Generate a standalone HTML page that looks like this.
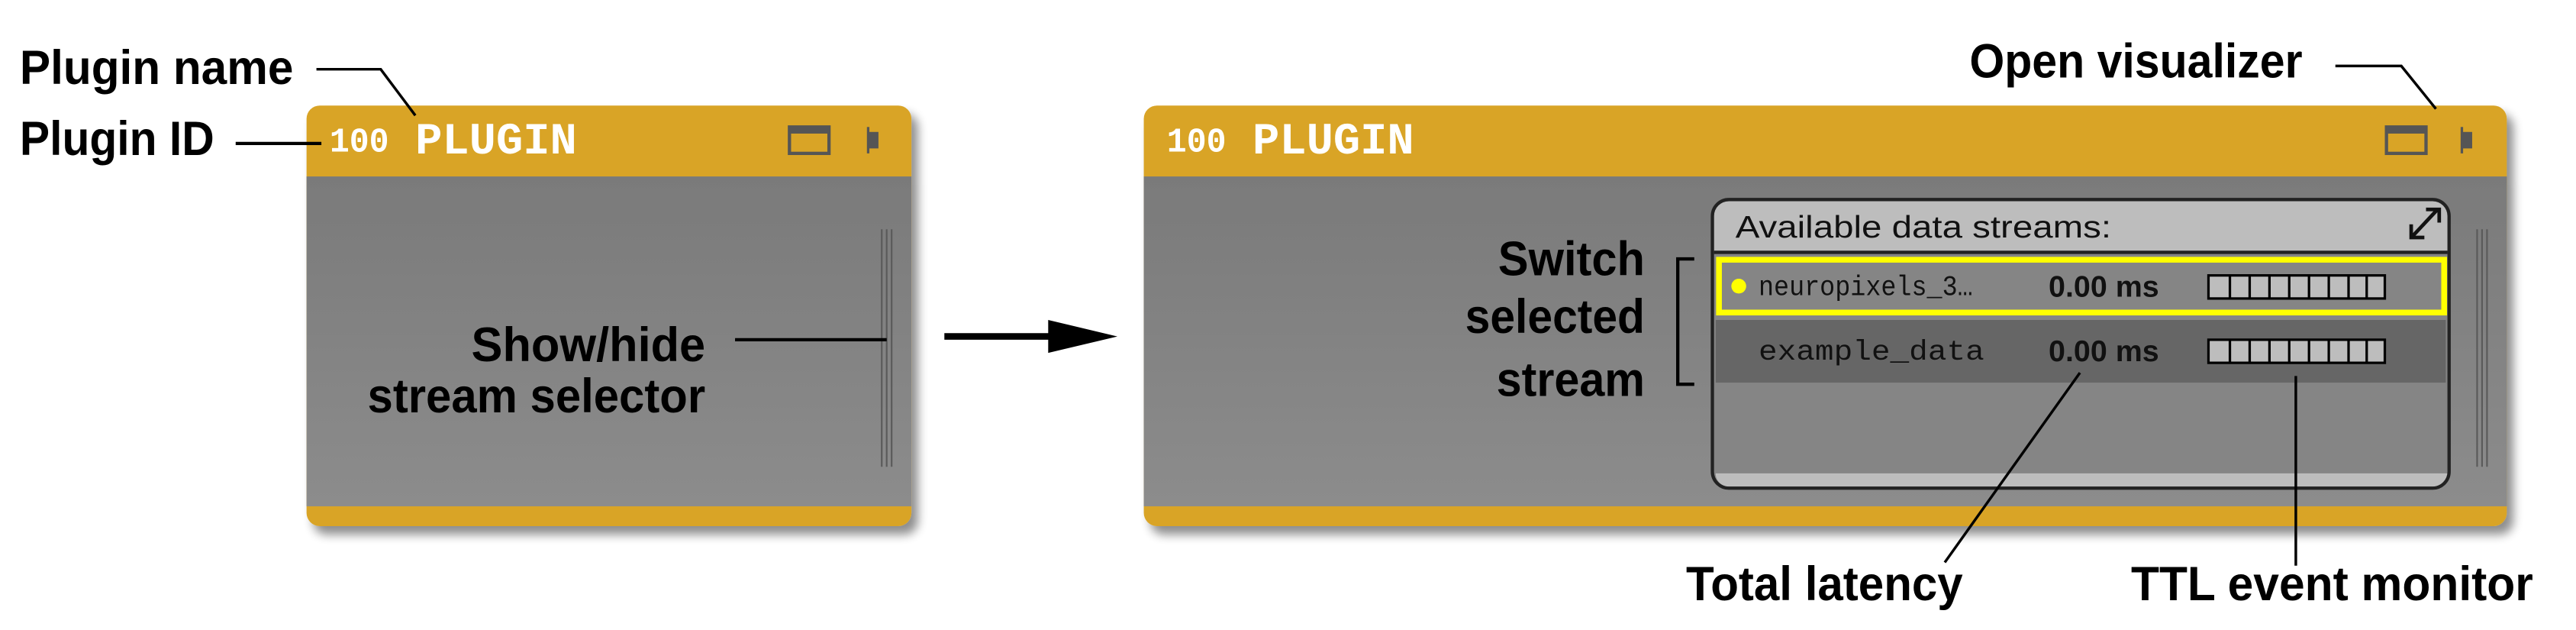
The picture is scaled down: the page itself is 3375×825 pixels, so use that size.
<!DOCTYPE html>
<html><head><meta charset="utf-8"><style>
html,body{margin:0;padding:0;background:#fff;}
svg{display:block;}
.lbl{font-family:"Liberation Sans",sans-serif;font-weight:bold;font-size:29px;fill:#000;}
.mono{font-family:"Liberation Mono","DejaVu Sans Mono",monospace;}
</style></head><body>
<svg width="3375" height="825" viewBox="0 0 1563 382" preserveAspectRatio="none" xmlns="http://www.w3.org/2000/svg">
<defs>
<linearGradient id="body" x1="0" y1="0" x2="0" y2="1"><stop offset="0" stop-color="#7a7a7a"/><stop offset="1" stop-color="#8c8c8c"/></linearGradient>
<filter id="sh" x="-5%" y="-10%" width="115%" height="130%"><feGaussianBlur in="SourceAlpha" stdDeviation="3"/><feOffset dx="4" dy="5"/><feComponentTransfer><feFuncA type="linear" slope="0.45"/></feComponentTransfer><feMerge><feMergeNode/><feMergeNode in="SourceGraphic"/></feMerge></filter>
</defs>

<g filter="url(#sh)">
<rect x="186" y="64" width="367" height="255" rx="8" fill="#d9a428"/>
<rect x="186" y="107" width="367" height="200" fill="url(#body)"/>
</g>
<text x="200" y="92" class="mono" font-size="21" font-weight="bold" fill="#fff" textLength="36" lengthAdjust="spacingAndGlyphs">100</text>
<text x="252" y="93" class="mono" font-size="27" font-weight="bold" fill="#fff" textLength="98" lengthAdjust="spacingAndGlyphs">PLUGIN</text>
<rect x="479" y="77" width="24" height="16" fill="none" stroke="#555" stroke-width="2"/>
<rect x="479" y="77" width="24" height="4" fill="#555"/>
<rect x="526" y="77" width="1.5" height="16" fill="#555"/><rect x="527" y="80" width="6" height="10" fill="#555"/>
<g stroke="#5a5a5a" stroke-width="1"><line x1="535" y1="139" x2="535" y2="283"/><line x1="538" y1="139" x2="538" y2="283"/><line x1="541" y1="139" x2="541" y2="283"/></g>
<text x="428" y="219" class="lbl" text-anchor="end" textLength="142" lengthAdjust="spacingAndGlyphs">Show/hide</text>
<text x="428" y="250" class="lbl" text-anchor="end" textLength="205" lengthAdjust="spacingAndGlyphs">stream selector</text>
<line x1="446" y1="206" x2="538" y2="206" stroke="#000" stroke-width="2"/>

<text x="12" y="51" class="lbl" textLength="166" lengthAdjust="spacingAndGlyphs">Plugin name</text>
<text x="12" y="94" class="lbl" textLength="118" lengthAdjust="spacingAndGlyphs">Plugin ID</text>
<polyline points="192,42 231,42 252,70" fill="none" stroke="#000" stroke-width="1.6"/>
<line x1="143" y1="87" x2="195" y2="87" stroke="#000" stroke-width="2"/>

<line x1="573" y1="204" x2="642" y2="204" stroke="#000" stroke-width="4"/>
<polygon points="636,194 678,204 636,214" fill="#000"/>

<g filter="url(#sh)">
<rect x="694" y="64" width="827" height="255" rx="8" fill="#d9a428"/>
<rect x="694" y="107" width="827" height="200" fill="url(#body)"/>
</g>
<text x="708" y="92" class="mono" font-size="21" font-weight="bold" fill="#fff" textLength="36" lengthAdjust="spacingAndGlyphs">100</text>
<text x="760" y="93" class="mono" font-size="27" font-weight="bold" fill="#fff" textLength="98" lengthAdjust="spacingAndGlyphs">PLUGIN</text>
<rect x="1448" y="77" width="24" height="16" fill="none" stroke="#555" stroke-width="2"/>
<rect x="1448" y="77" width="24" height="4" fill="#555"/>
<rect x="1493" y="77" width="1.5" height="16" fill="#555"/><rect x="1494" y="80" width="6" height="10" fill="#555"/>
<g stroke="#5a5a5a" stroke-width="1"><line x1="1503" y1="139" x2="1503" y2="283"/><line x1="1506" y1="139" x2="1506" y2="283"/><line x1="1509" y1="139" x2="1509" y2="283"/></g>

<rect x="1039" y="121" width="447" height="175" rx="10" fill="#858585"/>
<path d="M1040,153 V131 a9,9 0 0 1 9,-9 H1476 a9,9 0 0 1 9,9 V153 Z" fill="#bdbdbd"/>
<line x1="1040" y1="153" x2="1485" y2="153" stroke="#222" stroke-width="2"/>
<rect x="1041" y="194" width="443" height="38" fill="#666"/>
<path d="M1041,287 H1485 V288 a8,8 0 0 1 -8,7 H1048 a8,8 0 0 1 -7,-7 Z" fill="#bdbdbd"/>
<rect x="1039" y="121" width="447" height="175" rx="10" fill="none" stroke="#222" stroke-width="2"/>
<text x="1053" y="144" font-family="Liberation Sans,sans-serif" font-size="19" fill="#111" textLength="228" lengthAdjust="spacingAndGlyphs">Available data streams:</text>
<g stroke="#111" stroke-width="2.2" fill="none"><line x1="1464" y1="143" x2="1479" y2="127"/><polyline points="1472,127 1480,127 1480,135"/><polyline points="1463,136 1463,144 1471,144"/></g>
<rect x="1043" y="157.5" width="440" height="32" fill="none" stroke="#ffff00" stroke-width="3.5"/>
<circle cx="1055" cy="173.5" r="4.5" fill="#ffff00"/>
<text x="1067" y="179" class="mono" font-size="17" fill="#111" textLength="130" lengthAdjust="spacingAndGlyphs">neuropixels_3…</text>
<text x="1243" y="180" font-family="Liberation Sans,sans-serif" font-weight="bold" font-size="18" fill="#111" textLength="67" lengthAdjust="spacingAndGlyphs">0.00 ms</text>
<text x="1067" y="218" class="mono" font-size="17" fill="#111" textLength="137" lengthAdjust="spacingAndGlyphs">example_data</text>
<text x="1243" y="219" font-family="Liberation Sans,sans-serif" font-weight="bold" font-size="18" fill="#111" textLength="67" lengthAdjust="spacingAndGlyphs">0.00 ms</text>
<g fill="#bdbdbd" stroke="#000" stroke-width="1.5">
<rect x="1340" y="167" width="107" height="14"/><rect x="1340" y="206" width="107" height="14"/>
</g>
<g stroke="#000" stroke-width="1.5">
<line x1="1353" y1="167" x2="1353" y2="181"/><line x1="1365" y1="167" x2="1365" y2="181"/><line x1="1377" y1="167" x2="1377" y2="181"/><line x1="1389" y1="167" x2="1389" y2="181"/><line x1="1401" y1="167" x2="1401" y2="181"/><line x1="1413" y1="167" x2="1413" y2="181"/><line x1="1425" y1="167" x2="1425" y2="181"/><line x1="1436" y1="167" x2="1436" y2="181"/>
<line x1="1353" y1="206" x2="1353" y2="220"/><line x1="1365" y1="206" x2="1365" y2="220"/><line x1="1377" y1="206" x2="1377" y2="220"/><line x1="1389" y1="206" x2="1389" y2="220"/><line x1="1401" y1="206" x2="1401" y2="220"/><line x1="1413" y1="206" x2="1413" y2="220"/><line x1="1425" y1="206" x2="1425" y2="220"/><line x1="1436" y1="206" x2="1436" y2="220"/>
</g>

<text x="998" y="167" class="lbl" text-anchor="end" textLength="89" lengthAdjust="spacingAndGlyphs">Switch</text>
<text x="998" y="202" class="lbl" text-anchor="end" textLength="109" lengthAdjust="spacingAndGlyphs">selected</text>
<text x="998" y="240" class="lbl" text-anchor="end" textLength="90" lengthAdjust="spacingAndGlyphs">stream</text>
<polyline points="1028,157 1018,157 1018,233 1028,233" fill="none" stroke="#000" stroke-width="2"/>

<text x="1195" y="47" class="lbl" textLength="202" lengthAdjust="spacingAndGlyphs">Open visualizer</text>
<polyline points="1417,40 1457,40 1478,66" fill="none" stroke="#000" stroke-width="1.6"/>

<line x1="1262" y1="226" x2="1180" y2="341" stroke="#000" stroke-width="1.6"/>
<line x1="1393" y1="228" x2="1393" y2="343" stroke="#000" stroke-width="1.6"/>
<text x="1023" y="364" class="lbl" textLength="168" lengthAdjust="spacingAndGlyphs">Total latency</text>
<text x="1293" y="364" class="lbl" textLength="244" lengthAdjust="spacingAndGlyphs">TTL event monitor</text>
</svg>
</body></html>
